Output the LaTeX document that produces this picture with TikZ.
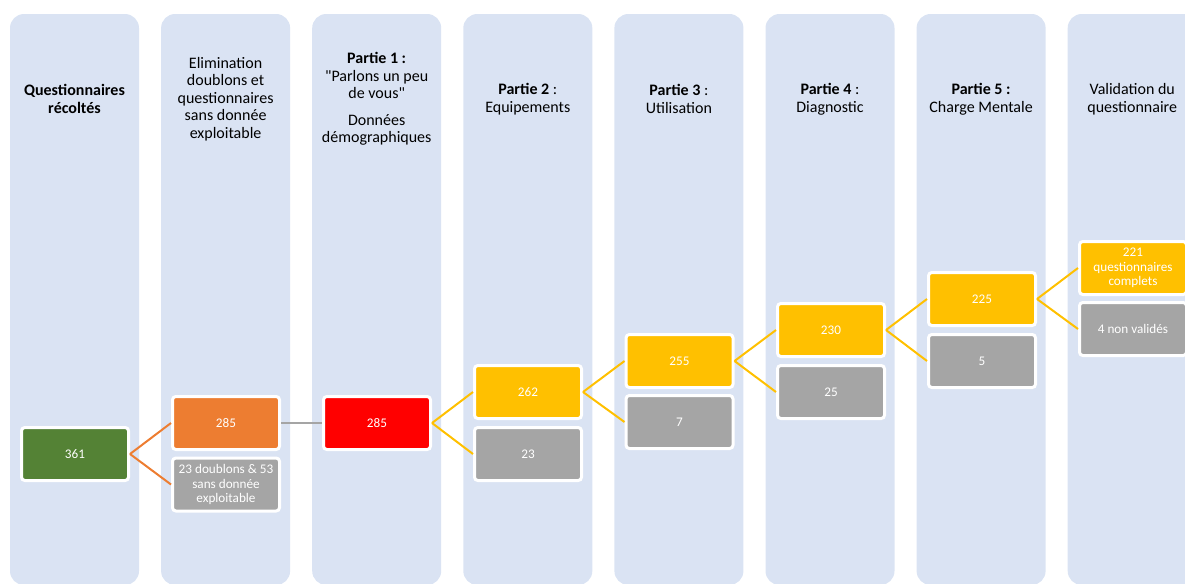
\documentclass[tikz,border=0pt]{standalone}
\usepackage{fontspec}
\setmainfont{Carlito}[Ligatures=TeXOff]
\usetikzlibrary{positioning}
\definecolor{colbg}{HTML}{DAE3F3}
\definecolor{startgreen}{HTML}{548235}
\definecolor{cleanorange}{HTML}{ED7D31}
\definecolor{partred}{HTML}{FF0000}
\definecolor{keptyellow}{HTML}{FFC000}
\definecolor{lostgray}{HTML}{A5A5A5}

\begin{document}
\begin{tikzpicture}[x=0.75pt, y=-0.75pt, thick,
        column/.style={fill=colbg, rounded corners=10.5pt, minimum width=96.75pt, minimum height=428.25pt, inner sep=0pt},
        header/.style={align=center, font=\fontsize{12}{13.2}\selectfont},
        count/.style={draw=white, line width=2.25pt, rounded corners=2.5pt, minimum width=80.25pt, minimum height=39.75pt, inner sep=1pt, text=white, align=center, font=\fontsize{9.9}{10.9}\selectfont},
        link/.style={line width=1.5pt}]
        \useasboundingbox (0,0) rectangle (1185,583);
        \begin{scope}
        \clip (0,0) rectangle (1185,583);
        \foreach \i in {0,...,7}
            \node[column] (col\i) at (74.5+151.1*\i, 299.5) {};
        \end{scope}

        \node[header] (h0) at (74.5,99) {\textbf{Questionnaires}\\\textbf{récoltés}};
        \node[header] (h1) at (225.6,99) {Elimination\\doublons et\\questionnaires\\sans donnée\\exploitable};
        \node[header] (h2) at (376.7,99) {\textbf{Partie 1 :}\\"Parlons un peu\\de vous"\\[6.4pt]Données\\démographiques};
        \node[header] (h3) at (527.8,99) {\textbf{Partie 2} :\\Equipements};
        \node[header] (h4) at (678.9,99) {\textbf{Partie 3} :\\Utilisation};
        \node[header] (h5) at (830,99) {\textbf{Partie 4} :\\Diagnostic};
        \node[header] (h6) at (981.1,99) {\textbf{Partie 5 :}\\Charge Mentale};
        \node[header] (h7) at (1132.2,99) {Validation du\\questionnaire};

        \node[count, fill=startgreen] (n361) at (75,454) {361};
        \node[count, fill=cleanorange] (n285) at (226,423) {285};
        \node[count, fill=lostgray] (dup) at (226,484.5) {23 doublons \& 53\\sans donnée\\exploitable};
        \node[count, fill=partred] (p1) at (377,423) {285};
        \node[count, fill=keptyellow] (p2) at (528,392) {262};
        \node[count, fill=lostgray] (l2) at (528,454) {23};
        \node[count, fill=keptyellow] (p3) at (679.5,361) {255};
        \node[count, fill=lostgray] (l3) at (679.5,422) {7};
        \node[count, fill=keptyellow] (p4) at (831,330) {230};
        \node[count, fill=lostgray] (l4) at (831,392) {25};
        \node[count, fill=keptyellow] (p5) at (982,299) {225};
        \node[count, fill=lostgray] (l5) at (982,361) {5};
        \node[count, fill=keptyellow] (ok) at (1133,268) {221\\questionnaires\\complets};
        \node[count, fill=lostgray] (ko) at (1133,329) {4 non validés};

        \draw[link, cleanorange] (n361.east) -- (n285.west);
        \draw[link, cleanorange] (n361.east) -- (dup.west);
        \draw[link, lostgray] (n285) -- (p1);
        \draw[link, keptyellow] (p1.east) -- (p2.west);
        \draw[link, keptyellow] (p1.east) -- (l2.west);
        \draw[link, keptyellow] (p2.east) -- (p3.west);
        \draw[link, keptyellow] (p2.east) -- (l3.west);
        \draw[link, keptyellow] (p3.east) -- (p4.west);
        \draw[link, keptyellow] (p3.east) -- (l4.west);
        \draw[link, keptyellow] (p4.east) -- (p5.west);
        \draw[link, keptyellow] (p4.east) -- (l5.west);
        \draw[link, keptyellow] (p5.east) -- (ok.west);
        \draw[link, keptyellow] (p5.east) -- (ko.west);
    \end{tikzpicture}
\end{document}
